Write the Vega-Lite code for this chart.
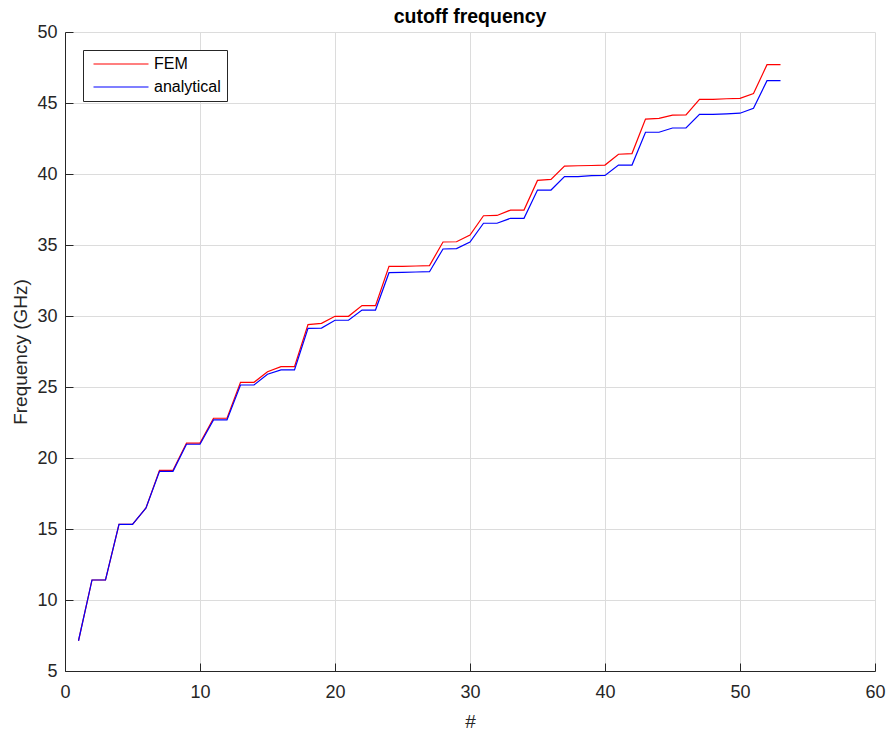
{
  "$schema": "https://vega.github.io/schema/vega-lite/v6.json",
  "autosize": {"type": "none"},
  "padding": {"left": 65, "top": 32, "right": 13, "bottom": 60},
  "width": 810,
  "height": 639,
  "background": "white",
  "title": {"text": "cutoff frequency", "font": "Liberation Sans", "fontSize": 19.5, "fontWeight": "bold", "color": "#000000", "offset": -4, "anchor": "middle"},
  "data": {"values": [
    {"n": 1, "FEM": 7.13, "analytical": 7.13},
    {"n": 2, "FEM": 11.41, "analytical": 11.41},
    {"n": 3, "FEM": 11.41, "analytical": 11.41},
    {"n": 4, "FEM": 15.33, "analytical": 15.33},
    {"n": 5, "FEM": 15.33, "analytical": 15.33},
    {"n": 6, "FEM": 16.48, "analytical": 16.48},
    {"n": 7, "FEM": 19.13, "analytical": 19.06},
    {"n": 8, "FEM": 19.13, "analytical": 19.06},
    {"n": 9, "FEM": 21.05, "analytical": 20.97},
    {"n": 10, "FEM": 21.05, "analytical": 20.97},
    {"n": 11, "FEM": 22.8, "analytical": 22.68},
    {"n": 12, "FEM": 22.8, "analytical": 22.68},
    {"n": 13, "FEM": 25.33, "analytical": 25.14},
    {"n": 14, "FEM": 25.33, "analytical": 25.14},
    {"n": 15, "FEM": 26.08, "analytical": 25.9},
    {"n": 16, "FEM": 26.43, "analytical": 26.2},
    {"n": 17, "FEM": 26.43, "analytical": 26.2},
    {"n": 18, "FEM": 29.39, "analytical": 29.13},
    {"n": 19, "FEM": 29.48, "analytical": 29.15},
    {"n": 20, "FEM": 29.98, "analytical": 29.7},
    {"n": 21, "FEM": 29.98, "analytical": 29.7},
    {"n": 22, "FEM": 30.73, "analytical": 30.42},
    {"n": 23, "FEM": 30.73, "analytical": 30.42},
    {"n": 24, "FEM": 33.5, "analytical": 33.05},
    {"n": 25, "FEM": 33.5, "analytical": 33.07},
    {"n": 26, "FEM": 33.52, "analytical": 33.1},
    {"n": 27, "FEM": 33.55, "analytical": 33.12},
    {"n": 28, "FEM": 35.21, "analytical": 34.72},
    {"n": 29, "FEM": 35.23, "analytical": 34.75},
    {"n": 30, "FEM": 35.7, "analytical": 35.21},
    {"n": 31, "FEM": 37.06, "analytical": 36.53},
    {"n": 32, "FEM": 37.08, "analytical": 36.53},
    {"n": 33, "FEM": 37.46, "analytical": 36.88},
    {"n": 34, "FEM": 37.46, "analytical": 36.88},
    {"n": 35, "FEM": 39.55, "analytical": 38.87},
    {"n": 36, "FEM": 39.62, "analytical": 38.87},
    {"n": 37, "FEM": 40.56, "analytical": 39.81},
    {"n": 38, "FEM": 40.58, "analytical": 39.81},
    {"n": 39, "FEM": 40.6, "analytical": 39.88},
    {"n": 40, "FEM": 40.63, "analytical": 39.9},
    {"n": 41, "FEM": 41.39, "analytical": 40.63},
    {"n": 42, "FEM": 41.44, "analytical": 40.63},
    {"n": 43, "FEM": 43.87, "analytical": 42.94},
    {"n": 44, "FEM": 43.92, "analytical": 42.94},
    {"n": 45, "FEM": 44.15, "analytical": 43.24},
    {"n": 46, "FEM": 44.17, "analytical": 43.24},
    {"n": 47, "FEM": 45.26, "analytical": 44.2},
    {"n": 48, "FEM": 45.26, "analytical": 44.2},
    {"n": 49, "FEM": 45.3, "analytical": 44.24},
    {"n": 50, "FEM": 45.33, "analytical": 44.28},
    {"n": 51, "FEM": 45.66, "analytical": 44.63},
    {"n": 52, "FEM": 47.7, "analytical": 46.57},
    {"n": 53, "FEM": 47.7, "analytical": 46.57}
  ]},
  "transform": [{"fold": ["FEM", "analytical"], "as": ["method", "freq"]}],
  "mark": {"type": "line", "strokeWidth": 1.2, "clip": true},
  "encoding": {
    "x": {"field": "n", "type": "quantitative", "scale": {"domain": [0, 60], "nice": false, "zero": false},
          "axis": {"orient": "bottom", "values": [0, 10, 20, 30, 40, 50, 60], "title": "#", "grid": true, "tickSize": -8, "labelPadding": 20, "titlePadding": 11, "labelFlush": false}},
    "y": {"field": "freq", "type": "quantitative", "scale": {"domain": [5, 50], "nice": false, "zero": false},
          "axis": {"orient": "left", "values": [5, 10, 15, 20, 25, 30, 35, 40, 45, 50], "title": "Frequency (GHz)", "grid": true, "tickSize": -8, "labelPadding": 16, "titlePadding": 6, "labelFlush": false}},
    "color": {"field": "method", "type": "nominal",
              "scale": {"domain": ["FEM", "analytical"], "range": ["#FF0000", "#0000FF"]},
              "legend": {"title": null, "orient": "none", "legendX": 18, "legendY": 18, "symbolType": "M-5,0H5", "symbolSize": 121, "symbolStrokeWidth": 1.2, "symbolOffset": 24, "strokeColor": "#262626", "fillColor": "white", "padding": 6, "labelFont": "Liberation Sans", "labelFontSize": 16, "labelColor": "#000000", "rowPadding": 7, "labelOffset": 25}}
  },
  "config": {
    "view": {"stroke": null},
    "axis": {
      "domainColor": "#262626", "tickColor": "#262626", "gridColor": "#dcdcdc", "gridWidth": 1,
      "labelFont": "Liberation Sans", "labelFontSize": 18, "labelColor": "#262626",
      "titleFont": "Liberation Sans", "titleFontSize": 19, "titleFontWeight": "normal", "titleColor": "#262626",
      "domainWidth": 1, "tickWidth": 1
    }
  }
}
